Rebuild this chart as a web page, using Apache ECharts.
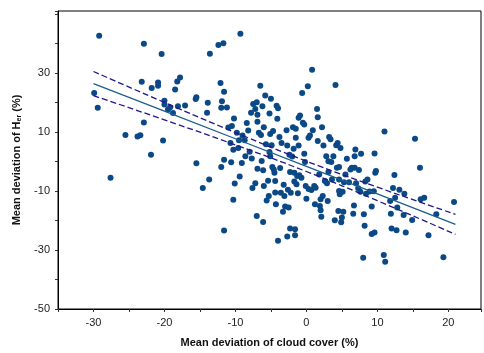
<!DOCTYPE html>
<html>
<head>
<meta charset="utf-8">
<script src="https://cdn.jsdelivr.net/npm/echarts@6/dist/echarts.min.js"></script>
<style>
  html, body { margin: 0; padding: 0; background: #fff; }
  #chart { width: 484px; height: 353px; }
</style>
</head>
<body>
<div id="chart"></div>
<script>
// mean deviation of cloud cover (%) for each point
var cloudDev = [
  -29.2, -29.9, -29.4, -27.6, -25.5, -23.8, -23.4, -23.2, -22.9, -22.9,
  -21.8, -21.9, -20.9, -20.9, -20.4, -20.2, -20.0, -20.0, -19.5, -19.2,
  -18.8, -18.5, -18.2, -18.1, -17.8, -17.1, -15.6, -15.5, -15.5, -14.6,
  -14.0, -13.9, -13.7, -13.6, -12.4, -11.7, -12.1, -11.9, -11.6, -12.0,
  -11.2, -12.0, -11.6, -11.6, -11.0, -10.5, -10.7, -10.6, -10.3, -10.2,
  -10.1, -10.3, -9.8, -9.6, -9.5, -9.3, -9.4, -9.1, -9.0, -8.7,
  -8.6, -8.4, -8.2, -8.0, -7.8, -7.7, -7.6, -7.5, -7.2, -7.0,
  -7.2, -7.0, -6.9, -6.9, -6.9, -6.7, -6.5, -6.4, -6.3, -6.2,
  -6.1, -6.1, -6.0, -6.0, -5.8, -5.7, -5.6, -5.4, -5.3, -5.2,
  -5.1, -5.2, -5.1, -5.0, -4.9, -4.8, -4.7, -4.6, -4.5, -4.4,
  -4.4, -4.3, -4.2, -4.1, -4.0, -4.0, -3.8, -3.7, -3.6, -3.5,
  -3.3, -3.2, -3.1, -3.0, -2.8, -2.7, -2.7, -2.6, -2.5, -2.4,
  -2.3, -2.3, -2.2, -2.0, -1.9, -1.8, -1.7, -1.7, -1.6, -1.6,
  -1.5, -1.5, -1.4, -1.3, -1.2, -1.1, -1.1, -1.0, -0.9, -0.7,
  -0.6, -0.5, -0.3, -0.3, -0.2, -0.1, 0.0, 0.2, 0.3, 0.3,
  0.5, 0.7, 0.8, 0.9, 1.1, 1.2, 1.3, 1.5, 1.6, 1.6,
  1.8, 1.9, 2.0, 2.1, 2.2, 2.0, 2.3, 2.4, 2.6, 2.8,
  2.9, 3.0, 3.1, 3.1, 3.2, 3.4, 3.5, 3.6, 3.8, 4.0,
  4.1, 4.2, 4.3, 4.4, 4.5, 4.6, 4.6, 4.6, 4.7, 4.8,
  4.9, 5.0, 5.2, 5.1, 5.3, 5.5, 5.7, 6.0, 6.2, 6.4,
  6.6, 6.7, 6.8, 6.8, 6.9, 7.0, 7.3, 7.4, 7.6, 7.7,
  8.0, 8.1, 8.2, 8.3, 8.4, 8.6, 8.9, 9.2, 9.2, 9.6,
  9.5, 9.6, 9.7, 9.8, 10.9, 11.0, 11.1, 11.8, 11.9, 12.0,
  12.2, 12.4, 12.5, 12.7, 12.8, 13.1, 13.7, 13.8, 14.0, 14.9,
  15.3, 16.0, 16.1, 16.6, 17.2, 18.3, 19.3, 20.8
];
// mean deviation of H_er (%) for each point
var herDev = [
  42.6, 23.2, 18.2, -5.5, 9.0, 8.5, 8.9, 27.0, 39.9, 13.2,
  24.9, 2.3, 26.8, 25.7, 36.4, 7.1, 20.6, 19.3, 17.6, 18.4,
  16.4, 24.4, 27.1, 18.7, 28.5, 19.0, 21.2, 21.8, -0.6, -9.0,
  16.5, 19.9, -6.1, 36.5, 39.5, 40.1, 26.6, 20.4, 23.6, 18.2,
  18.3, -1.9, 0.6, -23.4, 11.5, 12.0, 6.3, -0.3, 4.0, 14.6,
  -7.5, -13.0, 9.7, 4.6, 7.2, 43.3, -5.1, -0.5, 8.8, 7.2,
  1.8, 13.0, 10.5, 3.3, 16.5, 1.0, -9.0, 19.5, 17.8, 20.1,
  -7.4, -18.5, 15.8, -2.5, 13.5, 9.7, 25.7, 9.0, 0.2, 18.7,
  -3.0, -20.5, 11.6, -8.3, 22.4, 5.8, -13.2, -6.5, -11.7, 16.3,
  9.3, 3.2, 1.8, 21.3, 5.5, -1.9, 10.3, -2.7, -3.8, -10.5,
  -6.6, -14.5, 18.9, 14.5, -26.9, 18.0, 8.3, -2.2, -10.6, 6.3,
  -17.0, -7.9, -11.7, -15.3, 10.6, 5.4, -25.4, -9.6, -15.6, 2.3,
  -3.6, -22.7, -10.6, 1.7, 11.6, 4.3, -3.8, -6.8, -23.0, -25.0,
  11.1, 8.0, -7.7, -4.9, -10.8, 14.8, 5.4, -4.7, 15.6, -5.5,
  23.2, 13.1, 12.5, 2.6, -0.2, -8.3, -12.6, 25.5, 8.0, -9.3,
  8.8, -9.7, 31.1, 10.6, -8.3, -14.5, -8.9, 17.8, 6.9, 15.0,
  -4.4, -15.1, -12.8, -18.7, 11.6, -16.5, -11.7, 5.4, -6.6, 1.8,
  -7.4, -13.4, -3.6, 0.1, 8.3, 7.5, -0.2, -6.1, 1.8, -19.9,
  25.9, 5.5, -2.1, 6.3, -16.8, -1.9, -10.0, -6.1, -11.1, 4.6,
  -20.6, -19.0, -17.0, -10.3, -7.0, -4.4, 0.9, -7.0, -2.7, -2.1,
  -17.7, -14.9, 1.8, -2.1, 4.1, -7.4, -9.1, -2.9, -10.3, 2.6,
  -32.6, -17.9, -21.8, -6.8, -10.9, -6.1, -10.2, -15.3, -24.6, -24.1,
  -10.1, 2.7, -3.8, -3.2, -31.7, 10.2, -34.0, -13.4, -17.7, -22.7,
  -9.0, -4.6, -12.3, -23.3, -15.6, -9.6, -18.1, -10.9, -24.1, -19.8,
  7.7, -2.1, -12.8, -12.3, -25.0, -17.9, -32.5, -13.7
];

// regression line and its dashed band, read at these x positions
var lineX = [-30, -20, -10, 0, 10, 21];
var fitY = [26.4, 17.05, 7.7, -1.65, -11.0, -21.3];
var upperY = [30.5, 20.0, 9.8, 0.1, -8.7, -17.9];
var lowerY = [22.3, 14.1, 5.6, -3.4, -13.3, -24.7];

// tick labels
var xLabels = [-30, -20, -10, 0, 10, 20];
var yLabels = [-50, -30, -10, 10, 30];

function pairs(xs, ys) {
  return xs.map(function (x, i) { return [x, ys[i]]; });
}

var chart = echarts.init(document.getElementById("chart"));

var labelStyle = {
  color: "#222",
  fontSize: 11,
  fontFamily: "Liberation Sans, Arial, sans-serif"
};

chart.setOption({
  animation: false,
  grid: {
    left: 58,
    right: 1,
    top: 11,
    bottom: 43,
    show: true,
    borderColor: "#000",
    borderWidth: 1
  },
  xAxis: {
    type: "value",
    min: -35,
    max: 24.6,
    interval: 5,
    name: "Mean deviation of cloud cover (%)",
    nameLocation: "middle",
    nameGap: 28,
    nameTextStyle: {
      color: "#111",
      fontSize: 11,
      fontWeight: "bold",
      fontFamily: "Liberation Sans, Arial, sans-serif"
    },
    splitLine: { show: false },
    axisLine: { onZero: false, lineStyle: { color: "#000", width: 1 } },
    axisTick: { length: 3, lineStyle: { color: "#333" } },
    axisLabel: Object.assign({
      margin: 8,
      formatter: function (v) {
        return xLabels.indexOf(v) >= 0 ? String(v) : "";
      }
    }, labelStyle)
  },
  yAxis: {
    type: "value",
    min: -50,
    max: 51,
    interval: 10,
    name: "{a|Mean deviation of H}{s|er}{a| (%)}",
    nameLocation: "middle",
    nameGap: 35,
    nameTextStyle: {
      rich: {
        a: {
          color: "#111",
          fontSize: 11,
          fontWeight: "bold",
          fontFamily: "Liberation Sans, Arial, sans-serif"
        },
        s: {
          color: "#111",
          fontSize: 7,
          fontWeight: "bold",
          fontFamily: "Liberation Sans, Arial, sans-serif",
          verticalAlign: "bottom",
          padding: [5, 0, 0, 0]
        }
      }
    },
    splitLine: { show: false },
    axisLine: { onZero: false, lineStyle: { color: "#000", width: 1 } },
    axisTick: { length: 3, lineStyle: { color: "#333" } },
    axisLabel: Object.assign({
      margin: 8,
      formatter: function (v) {
        return yLabels.indexOf(v) >= 0 ? String(v) : "";
      }
    }, labelStyle)
  },
  series: [
    {
      type: "scatter",
      data: pairs(cloudDev, herDev),
      symbolSize: 6,
      itemStyle: { color: "#0b4886", opacity: 1 },
      z: 2
    },
    {
      type: "line",
      data: pairs(lineX, fitY),
      smooth: false,
      showSymbol: false,
      lineStyle: { color: "#1d5e8e", width: 1.3 },
      z: 3
    },
    {
      type: "line",
      data: pairs(lineX, upperY),
      smooth: true,
      showSymbol: false,
      lineStyle: { color: "#22188a", width: 1.3, type: [6, 3] },
      z: 3
    },
    {
      type: "line",
      data: pairs(lineX, lowerY),
      smooth: true,
      showSymbol: false,
      lineStyle: { color: "#22188a", width: 1.3, type: [6, 3] },
      z: 3
    }
  ]
});
</script>
</body>
</html>
